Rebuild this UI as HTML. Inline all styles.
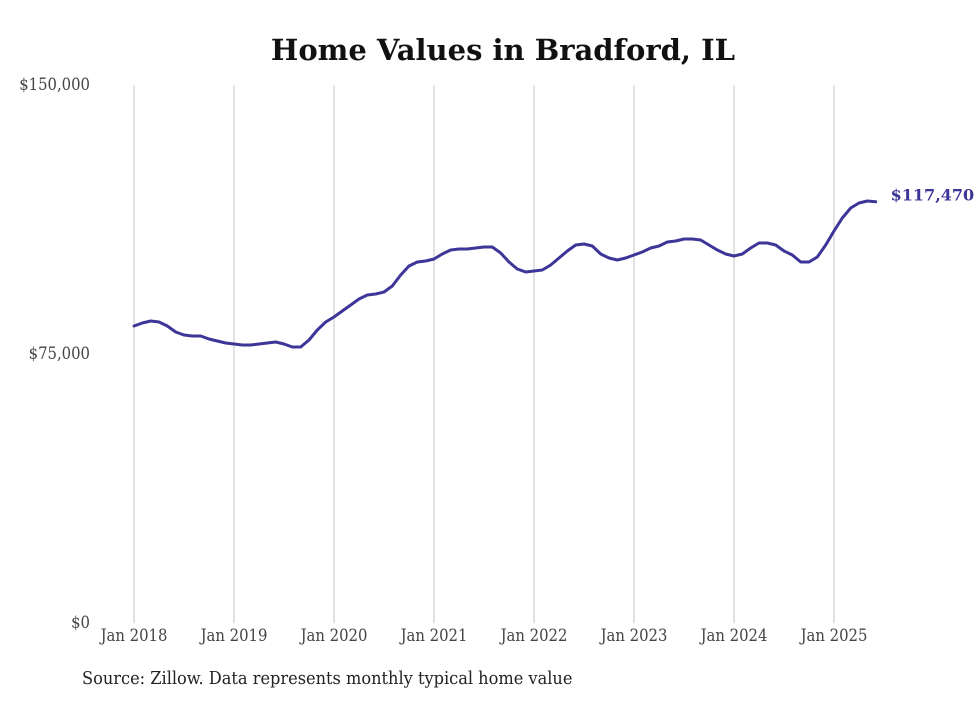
<!DOCTYPE html>
<html><head><meta charset="utf-8"><style>
body{margin:0;background:#fff;width:980px;height:699px;overflow:hidden}
svg text{font-family:"DejaVu Serif","Liberation Serif",serif}
.c{font-stretch:condensed}
</style></head><body>
<svg id="chart" width="980" height="699" xmlns="http://www.w3.org/2000/svg">
<text x="503" y="60" text-anchor="middle" font-size="29" font-weight="bold" fill="#111">Home Values in Bradford, IL</text>
<g id="grid"></g><g id="yaxis"></g><g id="xaxis"></g><g id="series"></g>
<text class="c" x="82" y="684" font-size="18" fill="#222">Source: Zillow. Data represents monthly typical home value</text>
</svg>
<script>
const yTicks=[0,75000,150000];
const yTickLabels=["$0","$75,000","$150,000"];
const xTickLabels=["Jan 2018","Jan 2019","Jan 2020","Jan 2021","Jan 2022","Jan 2023","Jan 2024","Jan 2025"];
const startYear=2018;
const values=[82800,83640,84200,83920,82800,81130,80290,80020,80020,79180,78620,78060,
77790,77510,77510,77790,78060,78340,77790,76950,76950,78900,81690,83920,
85310,86990,88660,90330,91450,91730,92280,93960,97020,99530,100650,100930,
101480,102880,103990,104270,104270,104550,104830,104830,103160,100650,98700,97860,
98140,98420,99810,101760,103710,105390,105670,105110,102880,101760,101200,101760,
102600,103430,104550,105110,106220,106500,107060,107060,106780,105390,103990,102880,
102320,102880,104550,105940,105940,105390,103710,102600,100650,100650,102040,105390,
109290,112910,115700,117100,117660,117470];
const lastLabel="$117,470";
const NS="http://www.w3.org/2000/svg";
const x=i=>134+i*100/12;
const y=v=>623-v/150000*538;
function mk(t,a,p){const e=document.createElementNS(NS,t);for(const k in a)e.setAttribute(k,a[k]);document.getElementById(p).appendChild(e);return e;}
yTicks.forEach((v,i)=>{
  const t=mk('text',{class:'c',x:90,y:y(v)+5,'text-anchor':'end','font-size':16.5,fill:'#444'},'yaxis');
  
  
  t.textContent=yTickLabels[i];
});
xTickLabels.forEach((s,i)=>{
  const g=mk('line',{x1:x(i*12),x2:x(i*12),y1:85,y2:623,stroke:'#c4c4c4','stroke-width':1},'grid');
  
  
  const t=mk('text',{class:'c',x:x(i*12),y:641,'text-anchor':'middle','font-size':16.5,fill:'#444'},'xaxis');
  
  
  t.textContent=s;
});
const d=values.map((v,i)=>(i?'L':'M')+x(i).toFixed(1)+','+y(v).toFixed(1)).join('');
const p=mk('path',{d:d,fill:'none',stroke:'#3d3597','stroke-width':3,'stroke-linejoin':'round','stroke-linecap':'round'},'series');


const n=values.length-1;
const lb=mk('text',{x:x(n)+15,y:y(values[n])-1,'font-size':16,'font-weight':'bold',fill:'#3d3597'},'series');


lb.textContent=lastLabel;
</script>
</body></html>
